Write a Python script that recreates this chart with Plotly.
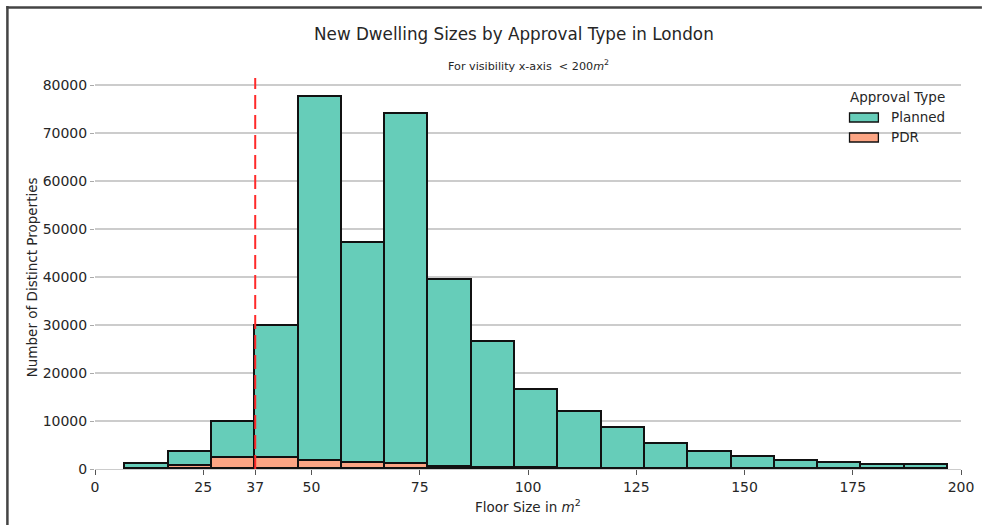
import plotly.graph_objects as go

# ---- data ----
bin_starts = [7, 17, 27, 37, 47, 57, 67, 77, 87, 97, 107, 117, 127, 137, 147, 157, 167, 177, 187]
bin_width = 10
pdr_counts = [100, 700, 2200, 2200, 1600, 1200, 1000, 500, 300, 150, 100, 80, 60, 50, 40, 30, 20, 20, 15]
planned_counts = [900, 2900, 7600, 27600, 75900, 46000, 72900, 39000, 26100, 16250, 11700, 8520,
                  5240, 3450, 2460, 1670, 1280, 880, 735]
x_ticks = [0, 25, 37, 50, 75, 100, 125, 150, 175, 200]
y_ticks = [0, 10000, 20000, 30000, 40000, 50000, 60000, 70000, 80000]
threshold = 37

TEAL = "#66CDB9"
SALMON = "#FCA584"
FONT = "DejaVu Sans"
TXT = "#262626"

W, H = 986, 525
L, R = 95, 965          # plot area pixel x
T, B = 78, 469          # plot area pixel y


def px(x):
    return (x - L) / (R - L)


def py(y):
    return (B - y) / (B - T)


centers = [s + bin_width / 2 for s in bin_starts]

fig = go.Figure()
fig.add_trace(go.Bar(
    x=centers, y=pdr_counts, width=bin_width, name="PDR",
    marker=dict(color=SALMON, line=dict(color="#111111", width=1.7)),
    showlegend=False,
))
fig.add_trace(go.Bar(
    x=centers, y=planned_counts, width=bin_width, name="Planned",
    marker=dict(color=TEAL, line=dict(color="#111111", width=1.7)),
    showlegend=False,
))

# red dashed threshold line
fig.add_shape(type="line", xref="x", yref="paper", x0=threshold, x1=threshold, y0=0, y1=1,
              line=dict(color="#FF2A2A", width=2, dash="14px,6px"), layer="above")

# figure frame (top and left edges)
fig.add_shape(type="line", xref="paper", yref="paper", x0=px(6), x1=px(986), y0=py(7.5), y1=py(7.5),
              line=dict(color="#444444", width=2.5), layer="above")
fig.add_shape(type="line", xref="paper", yref="paper", x0=px(7), x1=px(7), y0=py(6), y1=py(525),
              line=dict(color="#444444", width=2.5), layer="above")

annotations = [
    dict(text="New Dwelling Sizes by Approval Type in London", x=px(516), y=py(34),
         font=dict(size=16.8, color=TXT, family=FONT)),
    dict(text="For visibility x-axis  < 200<i>m</i><sup>2</sup>", x=px(531), y=py(65),
         font=dict(size=11.2, color=TXT, family=FONT)),
    dict(text="Number of Distinct Properties", x=px(32), y=py(277), textangle=-90,
         font=dict(size=13.5, color=TXT, family=FONT)),
    dict(text="Floor Size in <i>m</i><sup>2</sup>", x=px(530), y=py(506),
         font=dict(size=13.5, color=TXT, family=FONT)),
    dict(text="Approval Type", x=px(901), y=py(97),
         font=dict(size=13.5, color=TXT, family=FONT)),
    dict(text="Planned", x=px(893), y=py(117), xanchor="left",
         font=dict(size=13.5, color=TXT, family=FONT)),
    dict(text="PDR", x=px(893), y=py(137), xanchor="left",
         font=dict(size=13.5, color=TXT, family=FONT)),
]
for a in annotations:
    a.update(xref="paper", yref="paper", showarrow=False)
    a.setdefault("xanchor", "center")
    a.setdefault("yanchor", "middle")

# legend patches
for (y0, y1, col) in [(113, 122, TEAL), (133, 142, SALMON)]:
    fig.add_shape(type="rect", xref="paper", yref="paper", x0=px(853), x1=px(882),
                  y0=py(y1), y1=py(y0), fillcolor=col, line=dict(color="#111111", width=1.3))

fig.update_layout(
    width=W, height=H,
    margin=dict(l=L, r=W - R, t=T, b=H - B),
    paper_bgcolor="white", plot_bgcolor="white",
    barmode="stack", bargap=0,
    annotations=annotations,
    font=dict(family=FONT, color=TXT, size=14),
    xaxis=dict(range=[0, 200], tickvals=x_ticks, ticktext=[str(v) for v in x_ticks],
               showgrid=False, zeroline=False, showline=True, linecolor="#cccccc", linewidth=1.2,
               ticks="outside", ticklen=5, tickcolor="#555555", tickwidth=1,
               tickfont=dict(size=14, color=TXT, family=FONT)),
    yaxis=dict(range=[0, 81500], tickvals=y_ticks, ticktext=[str(v) for v in y_ticks],
               showgrid=True, gridcolor="#cccccc", gridwidth=1.5, zeroline=False, showline=False,
               ticks="outside", ticklen=4, tickcolor="#aaaaaa", tickwidth=1,
               tickfont=dict(size=14, color=TXT, family=FONT)),
)

fig.write_html("out.html", config={"displayModeBar": False},
               post_script="document.body.style.margin='0';document.body.style.overflow='hidden';")
